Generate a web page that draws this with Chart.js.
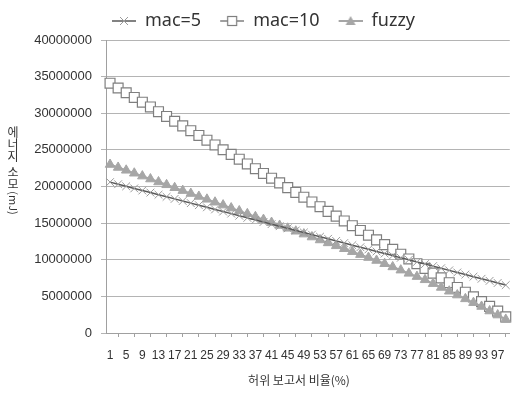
<!DOCTYPE html>
<html>
<head>
<meta charset="utf-8">
<script src="https://cdn.jsdelivr.net/npm/chart.js@4.4.0/dist/chart.umd.min.js"></script>
<style>
  html, body { margin: 0; padding: 0; background: #fff; }
  #wrap { width: 518px; height: 396px; }
</style>
</head>
<body>
<div id="wrap"><canvas id="chart" width="518" height="396"></canvas></div>
<script>
const categories = [
  '1','3','5','7','9','11','13','15','17','19','21','23','25','27','29','31','33','35','37','39',
  '41','43','45','47','49','51','53','55','57','59','61','63','65','67','69','71','73','75','77','79',
  '81','83','85','87','89','91','93','95','97','99'
];

const mac5 = [
  20600000, 20310000, 20030000, 19740000, 19450000, 19170000, 18880000, 18590000, 18310000, 18020000,
  17730000, 17450000, 17160000, 16870000, 16580000, 16300000, 16010000, 15720000, 15440000, 15150000,
  14860000, 14580000, 14290000, 14000000, 13720000, 13430000, 13140000, 12860000, 12570000, 12280000,
  11990000, 11710000, 11420000, 11130000, 10850000, 10560000, 10270000, 9990000, 9700000, 9410000,
  9130000, 8840000, 8550000, 8260000, 7980000, 7690000, 7400000, 7120000, 6830000, 6540000
];

const mac10 = [
  34100000, 33450000, 32800000, 32160000, 31510000, 30860000, 30210000, 29560000, 28910000, 28270000,
  27620000, 26970000, 26320000, 25670000, 25020000, 24380000, 23730000, 23080000, 22430000, 21780000,
  21130000, 20490000, 19840000, 19190000, 18540000, 17890000, 17240000, 16600000, 15950000, 15300000,
  14650000, 14000000, 13350000, 12710000, 12060000, 11410000, 10760000, 10110000, 9460000, 8820000,
  8170000, 7520000, 6870000, 6220000, 5570000, 4930000, 4280000, 3630000, 2980000, 2200000
];

const fuzzy = [
  23000000, 22600000, 22210000, 21810000, 21420000, 21020000, 20620000, 20230000, 19830000, 19440000,
  19040000, 18640000, 18250000, 17850000, 17460000, 17060000, 16660000, 16270000, 15870000, 15480000,
  15080000, 14680000, 14290000, 13890000, 13500000, 13100000, 12700000, 12300000, 11900000, 11500000,
  11100000, 10700000, 10300000, 9900000, 9460000, 9020000, 8580000, 8140000, 7700000, 7260000,
  6740000, 6220000, 5700000, 5180000, 4660000, 4140000, 3620000, 3000000, 2450000, 1850000
];

const seriesNames = ['mac=5', 'mac=10', 'fuzzy'];
const yMin = 0;
const yMax = 40000000;
const yStep = 5000000;
const xTitle = '허위 보고서 비율(%)';
const yTitleWords = '에너지 소모';
const yTitleUnit = '(mJ)';

const textColor = '#333333';
const gridColor = '#b4b4b4';
const axisColor = '#a0a0a0';

// legend symbols: a short line with the marker in the middle
function legendSymbol(kind) {
  const c = document.createElement('canvas');
  c.width = 34; c.height = 14;
  const g = c.getContext('2d');
  const cx = 22, cy = 7;
  g.lineWidth = 1.5;
  if (kind === 0) {
    g.strokeStyle = '#595959';
    g.beginPath(); g.moveTo(10, cy); g.lineTo(34, cy); g.stroke();
    g.strokeStyle = '#9a9a9a'; g.lineWidth = 1;
    g.beginPath();
    g.moveTo(cx - 4, cy - 4); g.lineTo(cx + 4, cy + 4);
    g.moveTo(cx - 4, cy + 4); g.lineTo(cx + 4, cy - 4);
    g.stroke();
  } else if (kind === 1) {
    g.strokeStyle = '#7f7f7f';
    g.beginPath(); g.moveTo(10, cy); g.lineTo(34, cy); g.stroke();
    g.fillStyle = '#fff'; g.lineWidth = 1.2;
    g.fillRect(cx - 4.5, cy - 4.5, 9, 9);
    g.strokeRect(cx - 4.5, cy - 4.5, 9, 9);
  } else {
    g.strokeStyle = '#a6a6a6'; g.lineWidth = 2;
    g.beginPath(); g.moveTo(10, cy); g.lineTo(34, cy); g.stroke();
    g.fillStyle = '#a6a6a6';
    g.beginPath(); g.moveTo(cx, cy - 5); g.lineTo(cx + 5, cy + 4); g.lineTo(cx - 5, cy + 4); g.closePath(); g.fill();
  }
  return c;
}

// Excel style titles: y title with upright stacked glyphs and the unit turned sideways
const titlePlugin = {
  id: 'axisTitles',
  afterDraw(chart) {
    const c = chart.ctx;
    c.save();
    c.fillStyle = textColor;
    c.font = '12px "Noto Sans CJK KR"';
    c.textAlign = 'center';
    c.textBaseline = 'middle';
    let y = 132;
    for (const ch of yTitleWords) {
      if (ch === ' ') { y += 4; continue; }
      c.fillText(ch, 13, y);
      y += 12;
    }
    c.save();
    c.font = '11px "Noto Sans CJK KR"';
    c.translate(13, y + 7);
    c.rotate(Math.PI / 2);
    c.fillText(yTitleUnit, 0, 0);
    c.restore();
    c.fillText(xTitle, 299, 380);
    c.restore();
  }
};

const ctx = document.getElementById('chart').getContext('2d');
new Chart(ctx, {
  type: 'line',
  data: {
    labels: categories,
    datasets: [
      {
        label: seriesNames[0], data: mac5, order: 0,
        borderColor: '#595959', borderWidth: 1.5,
        pointStyle: 'crossRot', pointRadius: 5.5, pointBorderColor: '#9a9a9a', pointBorderWidth: 1,
        pointBackgroundColor: '#9a9a9a'
      },
      {
        label: seriesNames[1], data: mac10, order: 2,
        borderColor: '#7f7f7f', borderWidth: 1.5,
        pointStyle: 'rect', pointRadius: 7, pointBorderColor: '#7f7f7f', pointBorderWidth: 1.2,
        pointBackgroundColor: '#ffffff'
      },
      {
        label: seriesNames[2], data: fuzzy, order: 1,
        borderColor: '#a6a6a6', borderWidth: 2,
        pointStyle: 'triangle', pointRadius: 5.5, pointBorderColor: '#a6a6a6', pointBorderWidth: 1,
        pointBackgroundColor: '#a6a6a6'
      }
    ]
  },
  options: {
    responsive: false,
    animation: false,
    devicePixelRatio: 1,
    layout: { padding: { top: 3, right: 1, left: 0, bottom: 0 } },
    plugins: {
      tooltip: { enabled: false },
      legend: {
        position: 'top',
        labels: {
          usePointStyle: true,
          pointStyleWidth: 34,
          padding: 9,
          color: textColor,
          font: { family: '"Noto Sans", sans-serif', size: 18 },
          generateLabels: chart => seriesNames.map((name, i) => ({
            text: name,
            datasetIndex: i,
            pointStyle: legendSymbol(i),
            fillStyle: '#fff',
            strokeStyle: '#fff',
            lineWidth: 0,
            fontColor: textColor
          }))
        }
      }
    },
    scales: {
      x: {
        type: 'category',
        offset: true,
        grid: {
          offset: true,
          drawOnChartArea: false,
          tickLength: 4,
          color: axisColor
        },
        border: { color: axisColor },
        ticks: {
          autoSkip: false,
          maxRotation: 0,
          minRotation: 0,
          padding: 11,
          color: textColor,
          font: { family: '"Liberation Sans", sans-serif', size: 12 },
          callback: (v, i) => (i % 2 === 0 ? categories[i] : null)
        },
        afterFit: s => { s.height = 63; }
      },
      y: {
        min: yMin,
        max: yMax,
        grid: { color: gridColor, tickLength: 5 },
        border: { color: axisColor },
        ticks: {
          stepSize: yStep,
          padding: 9,
          color: textColor,
          font: { family: '"Liberation Sans", sans-serif', size: 13 },
          callback: v => String(v)
        },
        afterFit: s => { s.width = 106; }
      }
    }
  },
  plugins: [titlePlugin]
});
</script>
</body>
</html>
